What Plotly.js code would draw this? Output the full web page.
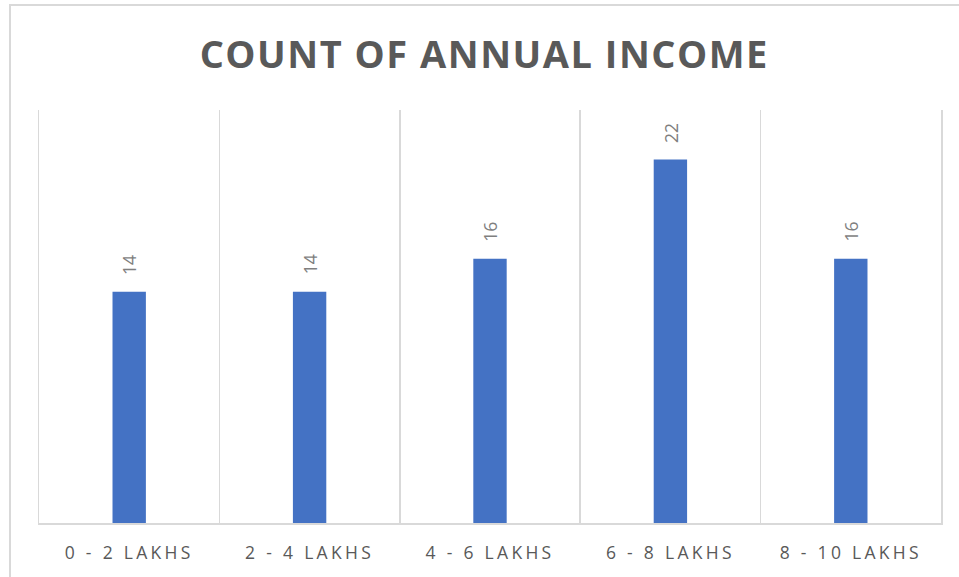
<!DOCTYPE html>
<html>
<head>
<meta charset="utf-8">
<script src="https://cdn.plot.ly/plotly-3.0.1.min.js"></script>
<style>
  html, body { margin: 0; padding: 0; background: #fff; }
  #wrap { position: relative; width: 959px; height: 577px; overflow: hidden; }
  #frame { position: absolute; left: 9px; top: 4px; width: 960px; height: 600px;
           border-left: 2px solid #d9d9d9; border-top: 2px solid #d9d9d9; box-sizing: border-box; pointer-events: none; z-index: 2; }
  #chart { position: absolute; left: 0; top: 0; width: 959px; height: 577px; }
  #chart .gtitle { letter-spacing: 1.5px; }
  #chart .xtick text { letter-spacing: 3.3px; }
</style>
</head>
<body>
<div id="wrap">
  <div id="chart"></div>
  <div id="frame"></div>
</div>
<script>
const categories = ["0 - 2 LAKHS", "2 - 4 LAKHS", "4 - 6 LAKHS", "6 - 8 LAKHS", "8 - 10 LAKHS"];
const counts = [14, 14, 16, 22, 16];
const chartTitle = "COUNT OF ANNUAL INCOME";

const trace = {
  type: "bar",
  x: categories,
  y: counts,
  marker: { color: "#4472C4" },
  width: 0.185,
  hoverinfo: "x+y"
};

const annotations = categories.map((c, i) => ({
  x: c,
  y: counts[i],
  xref: "x",
  yref: "y",
  text: String(counts[i]),
  showarrow: false,
  textangle: -90,
  yanchor: "bottom",
  xanchor: "center",
  yshift: 15,
  font: { family: "Open Sans, sans-serif", size: 17.5, color: "#7f7f7f" }
}));

const layout = {
  width: 959,
  height: 577,
  margin: { l: 39, r: 18, t: 110, b: 54 },
  paper_bgcolor: "rgba(0,0,0,0)",
  plot_bgcolor: "rgba(0,0,0,0)",
  title: {
    text: chartTitle,
    x: 0.505,
    xanchor: "center",
    y: 0.906,
    yanchor: "middle",
    font: { family: "Open Sans, sans-serif", size: 38, weight: 700, color: "#595959" }
  },
  xaxis: {
    type: "category",
    tickson: "boundaries",
    showgrid: true,
    gridcolor: "#d9d9d9",
    gridwidth: 1.5,
    showline: true,
    linecolor: "#d9d9d9",
    linewidth: 2,
    ticks: "",
    ticklabelstandoff: 13,
    tickfont: { family: "Open Sans, sans-serif", size: 17.5, color: "#595959" },
    fixedrange: true
  },
  yaxis: {
    range: [0, 25],
    showgrid: false,
    zeroline: false,
    showline: true,
    mirror: true,
    linecolor: "#d9d9d9",
    linewidth: 1.5,
    showticklabels: false,
    ticks: "",
    fixedrange: true
  },
  annotations: annotations,
  showlegend: false,
  bargap: 0.8
};

Plotly.newPlot("chart", [trace], layout, { displayModeBar: false, staticPlot: true });
</script>
</body>
</html>
